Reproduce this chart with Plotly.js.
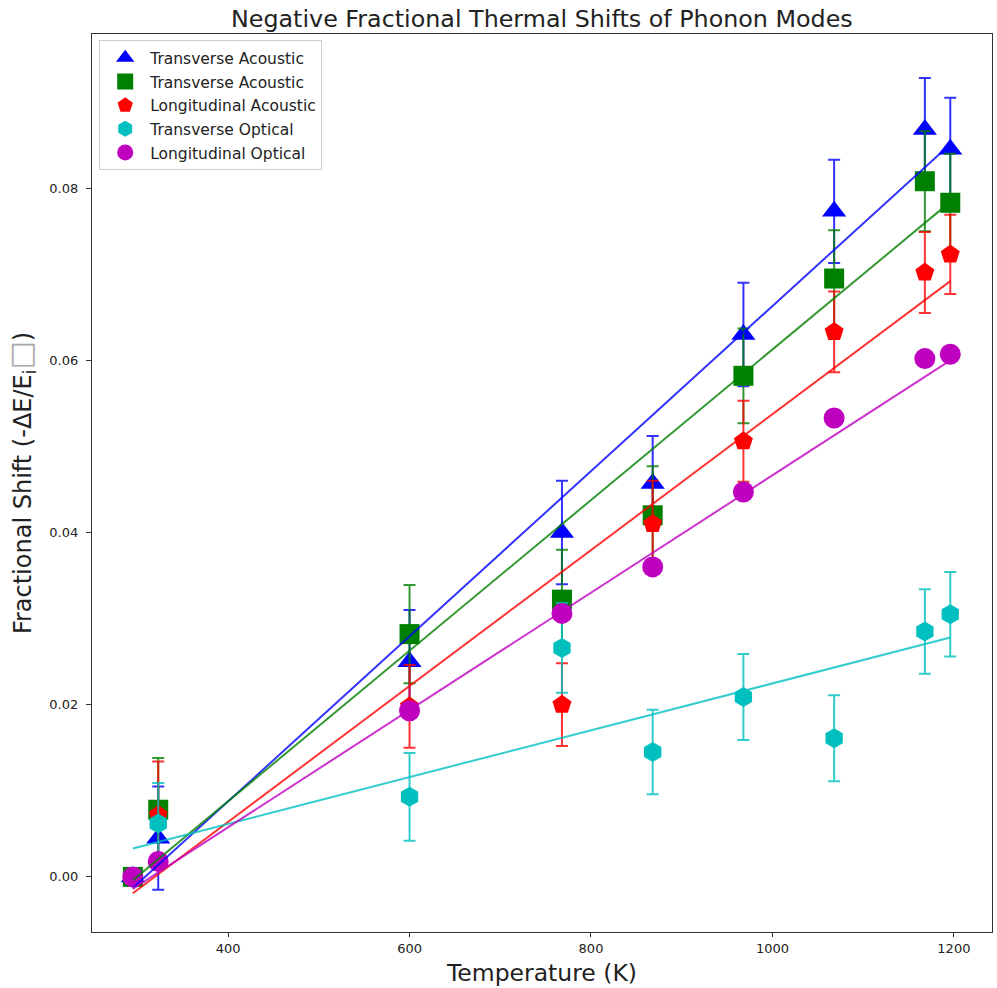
<!DOCTYPE html>
<html>
<head>
<meta charset="utf-8">
<script src="https://cdn.plot.ly/plotly-3.0.1.min.js"></script>
<style>html,body{margin:0;padding:0;background:#fff;}#chart{width:997px;height:988px;}</style>
</head>
<body>
<div id="chart"></div>
<script>
// Temperatures (K)
const temps = [295, 323, 600, 768, 868, 968, 1068, 1168, 1196];

// Fractional shifts per mode
const ta1 = [0.000, 0.0045, 0.0250, 0.0400, 0.0457, 0.0630, 0.0773, 0.0868, 0.0845];
const ta1Err = [0, 0.0060, 0.0060, 0.0060, 0.0055, 0.0060, 0.0060, 0.0060, 0.0060];

const ta2 = [0.000, 0.0078, 0.0282, 0.0322, 0.0420, 0.0582, 0.0695, 0.0808, 0.0783];
const ta2Err = [0, 0.0060, 0.0057, 0.0058, 0.0057, 0.0055, 0.0056, 0.0058, 0.0057];

const la = [0.000, 0.0072, 0.0198, 0.0200, 0.0410, 0.0506, 0.0633, 0.0702, 0.0723];
const laErr = [0, 0.0062, 0.0048, 0.0048, 0.0050, 0.0047, 0.0047, 0.0047, 0.0046];

const to = [0.000, 0.0062, 0.0093, 0.0266, 0.0145, 0.0209, 0.0161, 0.0285, 0.0305];
const toErr = [0, 0.0047, 0.0051, 0.0052, 0.0049, 0.0050, 0.0050, 0.0049, 0.0049];

const lo = [0.000, 0.0018, 0.0193, 0.0306, 0.0360, 0.0447, 0.0533, 0.0602, 0.0607];

// Linear fit end points
const fitT = [295, 1196];
const ta1Fit = [-0.0013, 0.0851];
const ta2Fit = [-0.0004, 0.0784];
const laFit = [-0.0019, 0.0692];
const toFit = [0.0033, 0.0278];
const loFit = [-0.0014, 0.0600];

const names = ['Transverse Acoustic', 'Transverse Acoustic', 'Longitudinal Acoustic', 'Transverse Optical', 'Longitudinal Optical'];

const series = [
  {y: ta1, e: ta1Err, fit: ta1Fit, sym: 'triangle-up', col: '#0000ff', lc: 'rgba(0,0,255,0.8)', size: 21},
  {y: ta2, e: ta2Err, fit: ta2Fit, sym: 'square', col: '#008000', lc: 'rgba(0,128,0,0.8)', size: 20},
  {y: la, e: laErr, fit: laFit, sym: 'pentagon', col: '#ff0000', lc: 'rgba(255,0,0,0.8)', size: 20},
  {y: to, e: toErr, fit: toFit, sym: 'hexagon', col: '#00bfbf', lc: 'rgba(0,191,191,0.8)', size: 20},
  {y: lo, e: null, fit: loFit, sym: 'circle', col: '#bf00bf', lc: 'rgba(191,0,191,0.8)', size: 21}
];

const traces = [];
series.forEach((s, i) => {
  const t = {
    x: temps, y: s.y, type: 'scatter', mode: 'markers', name: names[i],
    legendgroup: 'g' + i,
    marker: {symbol: s.sym, color: s.col, size: s.size, line: {width: 0}}
  };
  if (s.e) {
    t.error_y = {type: 'data', array: s.e, visible: true, color: s.lc, thickness: 2, width: 6};
  }
  traces.push(t);
});
series.forEach((s, i) => {
  traces.push({
    x: fitT, y: s.fit, type: 'scatter', mode: 'lines', showlegend: false,
    line: {color: s.lc, width: 2}, hoverinfo: 'skip'
  });
});

const font = 'DejaVu Sans, sans-serif';
const layout = {
  width: 997, height: 988,
  margin: {l: 92, r: 5, t: 34, b: 56},
  paper_bgcolor: '#fff', plot_bgcolor: '#fff',
  font: {family: font, color: '#222'},
  title: {text: 'Negative Fractional Thermal Shifts of Phonon Modes', font: {family: font, size: 23.8, color: '#222'}, x: 0.5435, xanchor: 'center', y: 0.9815, yanchor: 'middle'},
  xaxis: {
    range: [250, 1242], tickvals: [400, 600, 800, 1000, 1200], ticktext: ['400', '600', '800', '1000', '1200'],
    ticks: 'outside', ticklen: 4, tickwidth: 1, tickcolor: '#333',
    showline: true, linecolor: '#333', linewidth: 1.2, mirror: true,
    showgrid: false, zeroline: false,
    tickfont: {family: font, size: 13, color: '#222'},
    title: {text: 'Temperature (K)', font: {family: font, size: 23.5, color: '#222'}, standoff: 9}
  },
  yaxis: {
    range: [-0.0064, 0.0979], tickvals: [0, 0.02, 0.04, 0.06, 0.08], ticktext: ['0.00', '0.02', '0.04', '0.06', '0.08'],
    ticks: 'outside', ticklen: 5, tickwidth: 1, tickcolor: '#333', ticklabelstandoff: 5,
    showline: true, linecolor: '#333', linewidth: 1.2, mirror: true,
    showgrid: false, zeroline: false,
    tickfont: {family: font, size: 13, color: '#222'},
    title: {text: 'Fractional Shift (-ΔE/E<sub>i</sub><span style="font-size:30px;color:#aaa">□</span>)', font: {family: font, size: 24, color: '#222'}, standoff: 10}
  },
  legend: {
    x: 0.008, y: 0.993, xanchor: 'left', yanchor: 'top',
    bgcolor: 'rgba(255,255,255,0.9)', bordercolor: '#cccccc', borderwidth: 1,
    font: {family: font, size: 15.5, color: '#222'},
    tracegroupgap: 0.5, itemsizing: 'trace', itemwidth: 40
  },
  showlegend: true
};

Plotly.newPlot('chart', traces, layout, {displayModeBar: false, staticPlot: true});
</script>
</body>
</html>
